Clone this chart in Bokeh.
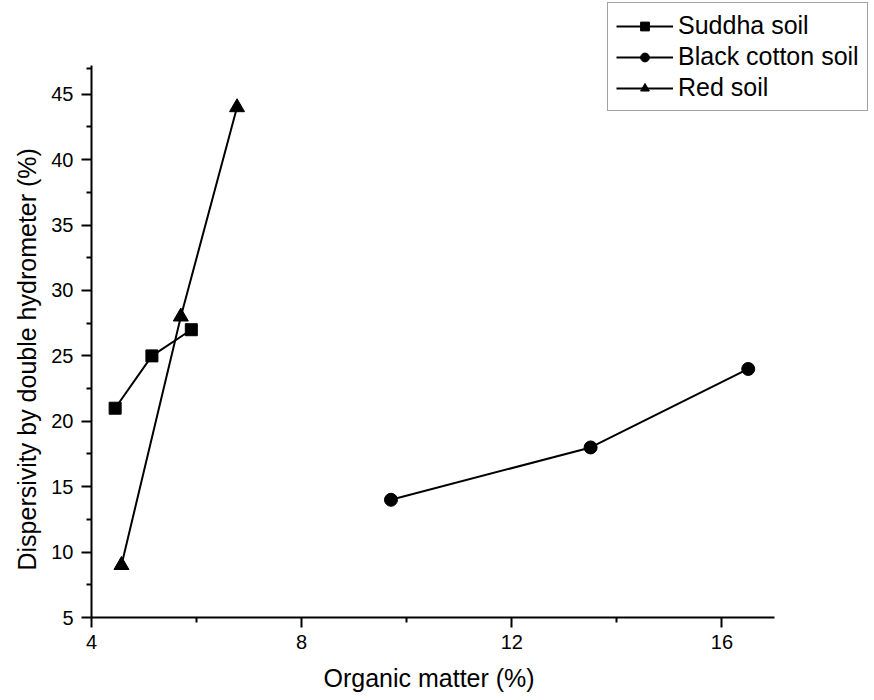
from bokeh.plotting import figure
from bokeh.models import Legend, LegendItem, Range1d, FixedTicker, Title
from bokeh.embed import file_html
from bokeh.resources import INLINE

# Data
suddha_x = [4.45, 5.15, 5.9]
suddha_y = [21, 25, 27]
black_x = [9.7, 13.5, 16.5]
black_y = [14, 18, 24]
red_x = [4.57, 5.7, 6.77]
red_y = [9, 28, 44]

x_ticks = [4, 8, 12, 16]
x_minor = [6, 10, 14]
y_ticks = [5, 10, 15, 20, 25, 30, 35, 40, 45]
y_minor = [7.5, 12.5, 17.5, 22.5, 27.5, 32.5, 37.5, 42.5, 47]

x_label = "Organic matter (%)"
y_label = "Dispersivity by double hydrometer (%)"

FONT = "Liberation Sans"

# Frame extends to the top/right edge so the legend (which sits above the
# axes' top in the reference) is not clipped; axis lines are bounded.
XPX = 683 / 13.0
YPX = 552 / 42.2
FW, FH = 783, 617

p = figure(frame_width=FW, frame_height=FH,
           min_border_left=91, min_border_right=0,
           min_border_top=0, min_border_bottom=83,
           x_range=Range1d(4, 4 + FW / XPX), y_range=Range1d(5, 5 + FH / YPX),
           output_backend="svg", toolbar_location=None)

p.outline_line_color = None
p.grid.visible = False
p.background_fill_color = "white"
p.border_fill_color = "white"

for ax in (p.xaxis[0], p.yaxis[0]):
    ax.axis_line_width = 2
    ax.axis_line_color = "black"
    ax.major_tick_line_width = 2
    ax.minor_tick_line_width = 2
    ax.major_tick_out = 10
    ax.major_tick_in = 0
    ax.minor_tick_out = 5
    ax.minor_tick_in = 0
    ax.major_label_text_font = FONT
    ax.major_label_text_font_size = "20px"
    ax.major_label_text_color = "black"

p.xaxis.bounds = (4, 17)
p.yaxis.bounds = (5, 47.2)
p.xaxis.ticker = FixedTicker(ticks=x_ticks, minor_ticks=x_minor)
p.yaxis.ticker = FixedTicker(ticks=y_ticks, minor_ticks=y_minor)
p.xaxis.major_label_standoff = 7
p.yaxis.major_label_standoff = 8

# Axis titles positioned to sit centred on the bounded axes
p.add_layout(Title(text=x_label, align="left", offset=232, standoff=20,
                   text_font=FONT, text_font_size="25px", text_font_style="normal",
                   text_color="black"), "below")
p.add_layout(Title(text=y_label, align="left", offset=47, standoff=15,
                   text_font=FONT, text_font_size="25px", text_font_style="normal",
                   text_color="black"), "left")

items = []
for xs, ys, marker, size, label in [
    (suddha_x, suddha_y, "square", 12, "Suddha soil"),
    (black_x, black_y, "circle", 13, "Black cotton soil"),
    (red_x, red_y, "triangle", 15, "Red soil"),
]:
    l = p.line(xs, ys, line_color="black", line_width=2)
    s = p.scatter(xs, ys, marker=marker, size=size, fill_color="black", line_color="black")
    items.append(LegendItem(label=label, renderers=[l, s]))

legend = Legend(items=items, location=(516, 506))
legend.border_line_color = "#444444"
legend.border_line_width = 1.5
legend.background_fill_color = "white"
legend.background_fill_alpha = 1
legend.label_text_font = FONT
legend.label_text_font_size = "25px"
legend.label_text_color = "black"
legend.glyph_width = 57
legend.glyph_height = 22
legend.label_height = 22
legend.spacing = 2
legend.padding = 8
legend.margin = 0
legend.label_standoff = 5
p.add_layout(legend, "center")

open("out.html", "w").write(file_html(p, INLINE))
